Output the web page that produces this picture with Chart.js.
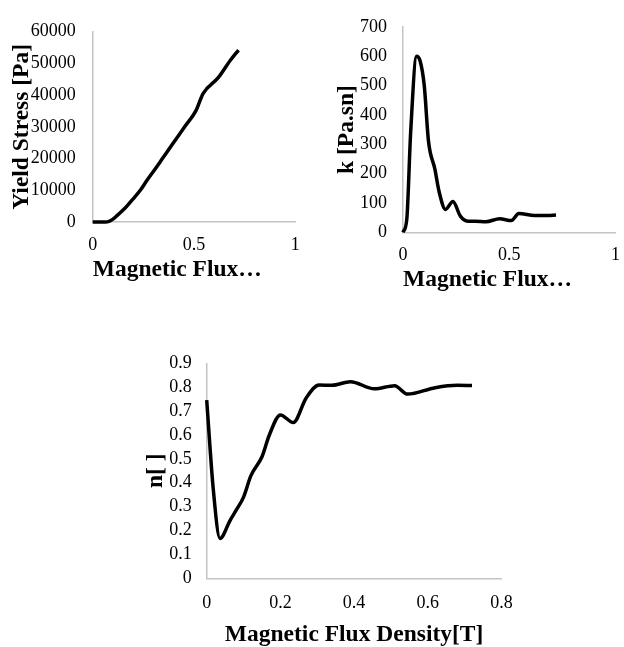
<!DOCTYPE html>
<html>
<head>
<meta charset="utf-8">
<script src="https://cdn.jsdelivr.net/npm/chart.js@4.4.0/dist/chart.umd.min.js"></script>
<style>
    html, body { margin: 0; padding: 0; background: #fff; overflow: hidden; width: 624px; height: 647px; }
    canvas { position: absolute; }
    #yieldChart { left: 0; top: 0; }
    #kChart { left: 312px; top: 0; }
    #nChart { left: 130px; top: 330px; }
</style>
</head>
<body>
<canvas id="yieldChart" width="312" height="290"></canvas>
<canvas id="kChart" width="320" height="295"></canvas>
<canvas id="nChart" width="400" height="317"></canvas>
<script>
// magnetic flux density [T], shared by all three curves
const fluxDensity = [0, 0.018, 0.036, 0.064, 0.08, 0.1, 0.12, 0.15, 0.17, 0.2, 0.235, 0.27, 0.305, 0.34, 0.39, 0.455, 0.51, 0.545, 0.62, 0.68, 0.72];
const yieldStress = [0, 0, 0, 0, 200, 900, 2000, 3800, 5100, 7300, 10000, 13300, 16400, 19600, 24200, 30100, 35100, 40500, 45500, 51000, 54200];
const consistencyK = [0, 46, 340, 600, 585, 500, 310, 215, 138, 78, 105, 55, 38, 38, 36, 46, 40, 64, 57, 57, 59];
const flowIndexN = [0.746, 0.37, 0.167, 0.244, 0.285, 0.34, 0.43, 0.509, 0.6, 0.684, 0.652, 0.755, 0.809, 0.808, 0.823, 0.793, 0.806, 0.771, 0.798, 0.808, 0.807];

const yieldTicks = [0, 10000, 20000, 30000, 40000, 50000, 60000];
const kTicks = [0, 100, 200, 300, 400, 500, 600, 700];
const nTicks = [0, 0.1, 0.2, 0.3, 0.4, 0.5, 0.6, 0.7, 0.8, 0.9];
const fluxTicksWide = [0, 0.5, 1];
const fluxTicksNarrow = [0, 0.2, 0.4, 0.6, 0.8];

const serif = '"Times New Roman", "Liberation Serif", serif';
const tickFont = { family: serif, size: 18 };
const titleFont = { family: serif, size: 23.5, weight: 'bold' };
const axisColor = '#c4c4c4';

function drawFluxChart(id, values, yTicks, xTicks, yTitle, xTitle, box) {
    return new Chart(document.getElementById(id), {
        type: 'line',
        data: {
            datasets: [{
                data: fluxDensity.map((x, i) => ({ x: x, y: values[i] })),
                borderColor: '#000',
                borderWidth: 3.5,
                pointRadius: 0,
                cubicInterpolationMode: 'monotone',
                fill: false,
                clip: false
            }]
        },
        options: {
            responsive: false,
            animation: false,
            layout: { padding: box.padding },
            plugins: { legend: { display: false }, tooltip: { enabled: false } },
            scales: {
                x: {
                    type: 'linear',
                    min: xTicks[0],
                    max: xTicks[xTicks.length - 1],
                    afterBuildTicks: s => { s.ticks = xTicks.map(v => ({ value: v })); },
                    afterFit: s => { s.height = box.xHeight; },
                    grid: { drawOnChartArea: false, drawTicks: false },
                    border: { color: axisColor, width: 1.5 },
                    ticks: { font: tickFont, color: '#000', padding: box.xTickPad, maxRotation: 0, autoSkip: false, callback: v => String(v) },
                    title: { display: true, text: xTitle, font: titleFont, color: '#000', align: box.xAlign, padding: { top: 0, bottom: box.xTitlePad } }
                },
                y: {
                    type: 'linear',
                    min: yTicks[0],
                    max: yTicks[yTicks.length - 1],
                    afterBuildTicks: s => { s.ticks = yTicks.map(v => ({ value: v })); },
                    afterFit: s => { s.width = box.yWidth; },
                    grid: { drawOnChartArea: false, drawTicks: false },
                    border: { color: axisColor, width: 1.5 },
                    ticks: { font: tickFont, color: '#000', padding: box.yTickPad, autoSkip: false, callback: v => String(v) },
                    title: { display: true, text: yTitle, font: titleFont, color: '#000', padding: { top: box.yTitlePad, bottom: 0 } }
                }
            }
        }
    });
}

drawFluxChart('yieldChart', yieldStress, yieldTicks, fluxTicksWide, 'Yield Stress [Pa]', 'Magnetic Flux…', {
    padding: { left: 0, top: 31.7, right: 10, bottom: 6 },
    yWidth: 92.7, xHeight: 62, yTickPad: 17, yTitlePad: 7.6, xTickPad: 12.3, xTitlePad: 0, xAlign: 'start'
});

drawFluxChart('kChart', consistencyK, kTicks, fluxTicksWide, 'k [Pa.sn]', 'Magnetic Flux…', {
    padding: { left: 0, top: 18.3, right: 9, bottom: 0.7 },
    yWidth: 91, xHeight: 62, yTickPad: 16, yTitlePad: 20.6, xTickPad: 12, xTitlePad: 0, xAlign: 'start'
});

drawFluxChart('nChart', flowIndexN, nTicks, fluxTicksNarrow, 'n[ ]', 'Magnetic Flux Density[T]', {
    padding: { left: 0, top: 33.3, right: 28.5, bottom: 0 },
    yWidth: 76.7, xHeight: 68.7, yTickPad: 15, yTitlePad: 11.9, xTickPad: 14, xTitlePad: -2.1, xAlign: 'center'
});
</script>
</body>
</html>
